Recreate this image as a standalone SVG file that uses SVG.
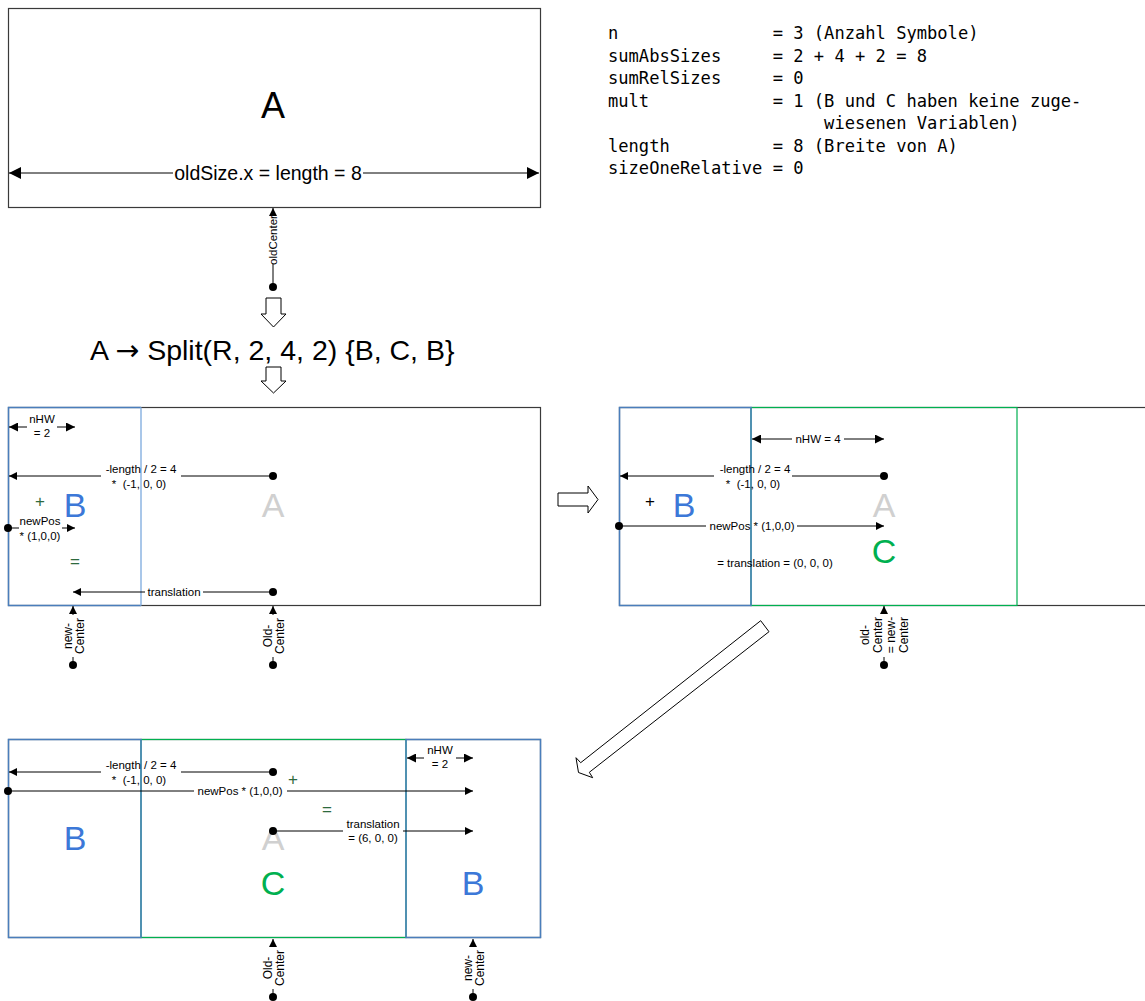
<svg xmlns="http://www.w3.org/2000/svg" width="1145" height="1001" viewBox="0 0 1145 1001">
<defs>
<marker id="ah" viewBox="0 0 10 10" refX="10" refY="5" markerWidth="9" markerHeight="8" markerUnits="userSpaceOnUse" orient="auto-start-reverse"><path d="M0,0 L10,5 L0,10 z" fill="#000"/></marker>
<marker id="ahM" viewBox="0 0 10 10" refX="10" refY="5" markerWidth="11" markerHeight="9" markerUnits="userSpaceOnUse" orient="auto-start-reverse"><path d="M0,0 L10,5 L0,10 z" fill="#000"/></marker>
<marker id="ahL" viewBox="0 0 10 10" refX="10" refY="5" markerWidth="14" markerHeight="12" markerUnits="userSpaceOnUse" orient="auto-start-reverse"><path d="M0,0 L10,5 L0,10 z" fill="#000"/></marker>
</defs>
<style>
.box{fill:none;stroke:#3a3a3a;stroke-width:1.2}
.bbox{fill:none;stroke:#4a7ebb;stroke-width:1.5}
.bbl{fill:none;stroke:#8db4e2;stroke-width:1.5}
.cbox{fill:none;stroke:#00b050;stroke-width:1.2}
.ln{stroke:#000;stroke-width:1;fill:none}
.a{marker-end:url(#ah)}
.dot{fill:#000}
.hol{fill:#fff;stroke:#000;stroke-width:1}
text{font-family:"Liberation Sans",Arial,sans-serif}
.lbl{font-size:11.5px;fill:#000;text-anchor:middle}
.vl{font-size:12px}
.big{font-size:34px;text-anchor:middle}
.bl{fill:#3c78d8}.gr{fill:#00b050}.ga{fill:#d0d0d0}.dg{fill:#2d6a3e}
.op{font-size:17px;text-anchor:middle}
.mono{font-family:"DejaVu Sans Mono","Liberation Mono",monospace;font-size:17.1px;fill:#000;white-space:pre}
</style>

<!-- Top box A -->
<g id="boxA">
<rect class="box" x="8.5" y="8.5" width="532" height="199"/>
<text x="273" y="118" font-size="36" text-anchor="middle">A</text>
</g>

<!-- variables text -->
<g id="vars">
<text class="mono" xml:space="preserve" x="608" y="39">n               = 3 (Anzahl Symbole)</text>
<text class="mono" xml:space="preserve" x="608" y="61.5">sumAbsSizes     = 2 + 4 + 2 = 8</text>
<text class="mono" xml:space="preserve" x="608" y="84">sumRelSizes     = 0</text>
<text class="mono" xml:space="preserve" x="608" y="106.5">mult            = 1 (B und C haben keine zuge-</text>
<text class="mono" xml:space="preserve" x="608" y="129">                     wiesenen Variablen)</text>
<text class="mono" xml:space="preserve" x="608" y="151.5">length          = 8 (Breite von A)</text>
<text class="mono" xml:space="preserve" x="608" y="174">sizeOneRelative = 0</text>
</g>

<g id="rule">
<polygon class="hol" points="266,298 281,298 281,314 286,314 273.5,327 261,314 266,314"/>
<text x="90" y="360" font-size="28.5">A <tspan font-family="DejaVu Sans,sans-serif">→</tspan> Split(R, 2, 4, 2) {B, C, B}</text>
<polygon class="hol" points="266,367 281,367 281,381 286,381 273.5,393 261,381 266,381"/>
</g>

<!-- Panel 1 -->
<g id="panel1">
<rect class="box" x="8.5" y="407.5" width="532" height="198"/>
<path class="bbox" d="M141,407.5 H8.5 V605.5 H141"/>
<line class="bbl" x1="141" y1="407.5" x2="141" y2="605.5"/>
<text class="op dg" x="40" y="507">+</text>
<text class="big bl" x="75" y="517">B</text>
<text class="big ga" x="273" y="517">A</text>
<text class="op dg" x="75" y="567">=</text>
</g>

<!-- Panel 2 -->
<g id="panel2">
<polygon class="hol" points="558,493 588,493 588,486 598,499.5 588,513 588,506 558,506"/>
<rect class="box" x="619.5" y="407.5" width="540" height="198"/>
<rect class="cbox" x="751" y="407.5" width="266" height="198"/>
<rect class="bbox" x="619.5" y="407.5" width="131.5" height="198"/>
<text class="op" x="650" y="507" fill="#000">+</text>
<text class="big bl" x="684" y="517">B</text>
<text class="big ga" x="884" y="517">A</text>
<text class="big gr" x="884" y="563">C</text>
<text class="lbl" x="775" y="567">= translation = (0, 0, 0)</text>
</g>

<polygon id="diag" class="hol" points="760.7,620.7 769,631.7 589.3,772.3 592.7,777.7 578.5,772.5 576,757.7 580.7,762.7"/>

<!-- Panel 3 -->
<g id="panel3">
<rect class="box" x="8.5" y="739.5" width="532" height="198"/>
<rect class="cbox" x="141" y="739.5" width="265" height="198"/>
<rect class="bbox" x="8.5" y="739.5" width="132.5" height="198"/>
<rect class="bbox" x="406" y="739.5" width="134.5" height="198"/>
<text class="big bl" x="75" y="850">B</text>
<text class="big ga" x="273" y="850">A</text>
<text class="big gr" x="273" y="895">C</text>
<text class="big bl" x="473" y="895">B</text>
<text class="op dg" x="293" y="785">+</text>
<text class="op dg" x="327" y="815">=</text>
</g>

<!-- Connectors -->
<g id="connectors">
<!-- top dimension -->
<line class="ln" x1="9" y1="173" x2="173" y2="173" style="marker-start:url(#ahL)"/>
<line class="ln" x1="363" y1="173" x2="539" y2="173" style="marker-end:url(#ahL)"/>
<text x="268" y="180" font-size="19.5" text-anchor="middle">oldSize.x = length = 8</text>

<!-- oldCenter -->
<circle class="dot" cx="273" cy="287" r="4"/>
<line class="ln" x1="273" y1="287" x2="273" y2="264"/>
<line class="ln a" x1="273" y1="216" x2="273" y2="208"/>
<text class="lbl" font-size="11" transform="translate(276.5,240) rotate(-90)">oldCenter</text>

<!-- panel1 nHW -->
<line class="ln" x1="9" y1="427" x2="27" y2="427" style="marker-start:url(#ahM)"/>
<line class="ln" x1="57" y1="427" x2="75" y2="427" style="marker-end:url(#ahM)"/>
<text class="lbl" x="42" y="423">nHW</text>
<text class="lbl" x="42" y="437">= 2</text>

<!-- panel1 -length -->
<circle class="dot" cx="273" cy="476" r="4"/>
<line class="ln" x1="273" y1="476" x2="181" y2="476"/>
<line class="ln a" x1="101" y1="476" x2="9" y2="476"/>
<text class="lbl" x="141" y="473">-length / 2 = 4</text>
<text class="lbl" xml:space="preserve" x="139" y="488">*  (-1, 0, 0)</text>

<!-- panel1 newPos -->
<circle class="dot" cx="8" cy="528" r="4"/>
<line class="ln" x1="8" y1="528" x2="19" y2="528"/>
<line class="ln a" x1="62" y1="528" x2="75" y2="528"/>
<text class="lbl" x="40" y="525">newPos</text>
<text class="lbl" x="40" y="540">* (1,0,0)</text>

<!-- panel1 translation -->
<circle class="dot" cx="273" cy="592" r="4"/>
<line class="ln" x1="273" y1="592" x2="203" y2="592"/>
<line class="ln a" x1="145" y1="592" x2="73" y2="592"/>
<text class="lbl" x="174" y="596">translation</text>

<!-- panel1 new-Center -->
<circle class="dot" cx="73" cy="665" r="4"/>
<line class="ln" x1="73" y1="665" x2="73" y2="657"/>
<line class="ln a" x1="73" y1="615" x2="73" y2="606"/>
<text class="lbl vl" transform="translate(73,636) rotate(-90)"><tspan x="0" y="-1.5">new-</tspan><tspan x="0" y="11">Center</tspan></text>

<!-- panel1 Old-Center -->
<circle class="dot" cx="273" cy="665" r="4"/>
<line class="ln" x1="273" y1="665" x2="273" y2="657"/>
<line class="ln a" x1="273" y1="615" x2="273" y2="606"/>
<text class="lbl vl" transform="translate(273,636) rotate(-90)"><tspan x="0" y="-1.5">Old-</tspan><tspan x="0" y="11">Center</tspan></text>

<!-- panel2 nHW = 4 -->
<line class="ln" x1="752" y1="439" x2="792" y2="439" style="marker-start:url(#ahM)"/>
<line class="ln" x1="844" y1="439" x2="884" y2="439" style="marker-end:url(#ahM)"/>
<text class="lbl" x="818" y="443">nHW = 4</text>

<!-- panel2 -length -->
<circle class="dot" cx="884" cy="476" r="4"/>
<line class="ln" x1="884" y1="476" x2="792" y2="476"/>
<line class="ln a" x1="714" y1="476" x2="620" y2="476"/>
<text class="lbl" x="755" y="473">-length / 2 = 4</text>
<text class="lbl" xml:space="preserve" x="753" y="488">*  (-1, 0, 0)</text>

<!-- panel2 newPos -->
<circle class="dot" cx="619" cy="526" r="4"/>
<line class="ln" x1="619" y1="526" x2="706" y2="526"/>
<line class="ln a" x1="797" y1="526" x2="884" y2="526"/>
<text class="lbl" x="752" y="530">newPos * (1,0,0)</text>

<!-- panel2 old-Center = new-Center -->
<circle class="dot" cx="884" cy="665" r="4"/>
<line class="ln" x1="884" y1="665" x2="884" y2="657"/>
<line class="ln a" x1="884" y1="613" x2="884" y2="606"/>
<text class="lbl vl" transform="translate(884,635) rotate(-90)"><tspan x="0" y="-15">old-</tspan><tspan x="0" y="-2">Center</tspan><tspan x="0" y="11">= new-</tspan><tspan x="0" y="24">Center</tspan></text>

<!-- panel3 nHW -->
<line class="ln" x1="407" y1="758" x2="424" y2="758" style="marker-start:url(#ahM)"/>
<line class="ln" x1="456" y1="758" x2="473" y2="758" style="marker-end:url(#ahM)"/>
<text class="lbl" x="440" y="754">nHW</text>
<text class="lbl" x="440" y="768">= 2</text>

<!-- panel3 -length -->
<circle class="dot" cx="273" cy="772" r="4"/>
<line class="ln" x1="273" y1="772" x2="181" y2="772"/>
<line class="ln a" x1="101" y1="772" x2="9" y2="772"/>
<text class="lbl" x="141" y="769">-length / 2 = 4</text>
<text class="lbl" xml:space="preserve" x="139" y="784">*  (-1, 0, 0)</text>

<!-- panel3 newPos -->
<circle class="dot" cx="8" cy="791" r="4"/>
<line class="ln" x1="8" y1="791" x2="194" y2="791"/>
<line class="ln a" x1="287" y1="791" x2="473" y2="791"/>
<text class="lbl" x="240" y="795">newPos * (1,0,0)</text>

<!-- panel3 translation -->
<circle class="dot" cx="273" cy="831" r="4"/>
<line class="ln" x1="273" y1="831" x2="343" y2="831"/>
<line class="ln a" x1="403" y1="831" x2="473" y2="831"/>
<text class="lbl" x="373" y="828">translation</text>
<text class="lbl" x="373" y="842">= (6, 0, 0)</text>

<!-- panel3 Old-Center -->
<circle class="dot" cx="273" cy="997" r="4"/>
<line class="ln" x1="273" y1="997" x2="273" y2="989"/>
<line class="ln a" x1="273" y1="947" x2="273" y2="939"/>
<text class="lbl vl" transform="translate(273,968) rotate(-90)"><tspan x="0" y="-1.5">Old-</tspan><tspan x="0" y="11">Center</tspan></text>

<!-- panel3 new-Center -->
<circle class="dot" cx="473" cy="997" r="4"/>
<line class="ln" x1="473" y1="997" x2="473" y2="989"/>
<line class="ln a" x1="473" y1="947" x2="473" y2="939"/>
<text class="lbl vl" transform="translate(473,968) rotate(-90)"><tspan x="0" y="-1.5">new-</tspan><tspan x="0" y="11">Center</tspan></text>
</g>
</svg>
